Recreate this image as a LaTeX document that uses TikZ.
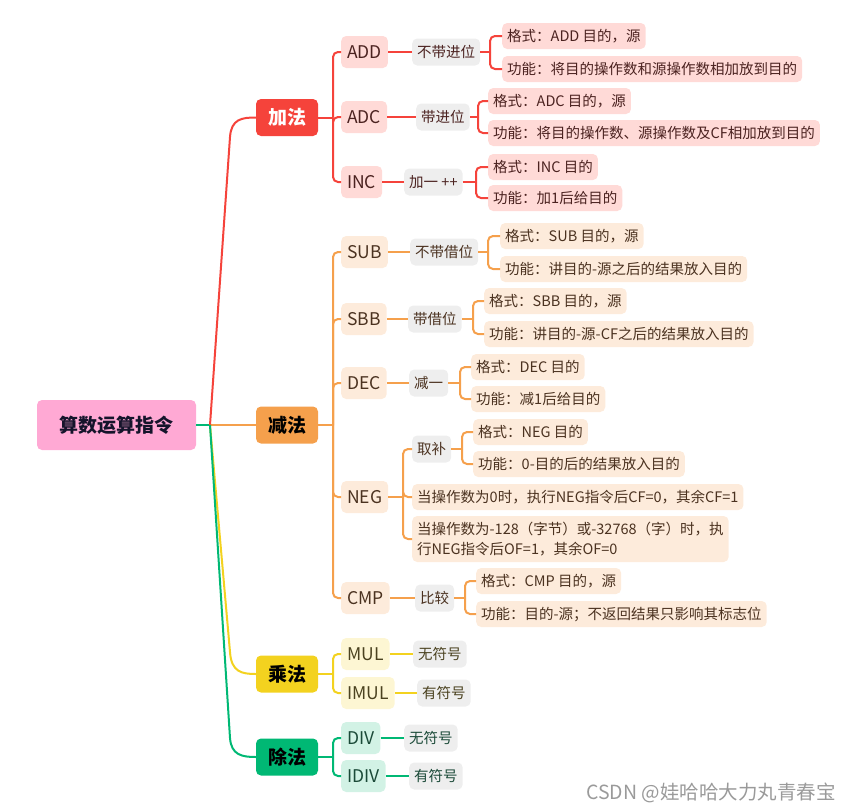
\documentclass[tikz,border=0pt]{standalone}
\usepackage{fontspec}
\setmainfont{Noto Sans CJK SC}
\usetikzlibrary{calc}
\definecolor{rootF}{HTML}{FFA9D4}
\definecolor{rootT}{HTML}{15142B}
\definecolor{redC}{HTML}{F5433B}
\definecolor{orgC}{HTML}{F5A04C}
\definecolor{yelC}{HTML}{F3D21F}
\definecolor{grnC}{HTML}{00B874}
\definecolor{redL}{HTML}{FFDAD7}
\definecolor{orgL}{HTML}{FDEBDB}
\definecolor{yelL}{HTML}{FDF6D3}
\definecolor{grnL}{HTML}{D2F2E5}
\definecolor{grayL}{HTML}{EEEEEE}
\definecolor{redT}{HTML}{4B2220}
\definecolor{orgT}{HTML}{4B3220}
\definecolor{yelT}{HTML}{4B4220}
\definecolor{grnT}{HTML}{1B4A38}
\definecolor{wmT}{HTML}{9A9A9A}
\tikzset{
  base/.style={rounded corners=5pt, inner sep=0pt, anchor=west},
  Lroot/.style={base, anchor=center, fill=rootF, text=rootT, minimum width=159, minimum height=50, text height=16.7pt, text depth=2.3pt, font=\fontsize{19}{22}\selectfont\bfseries},
  Lcat/.style={base, anchor=center, minimum width=62, minimum height=37, text height=16.7pt, text depth=2.3pt, font=\fontsize{19}{22}\selectfont\bfseries},
  Ltwo/.style={base, minimum height=32, inner xsep=6, text height=15pt, text depth=2pt, font=\fontsize{17.5}{20}\selectfont},
  Lthree/.style={base, minimum height=27, inner xsep=5, fill=grayL, text height=12.8pt, text depth=1.7pt, font=\fontsize{14.5}{17}\selectfont},
  Lfour/.style={base, minimum height=26, inner xsep=5, text height=12.8pt, text depth=1.7pt, font=\fontsize{14.5}{17}\selectfont},
  Lmulti/.style={rounded corners=5pt, anchor=west, inner xsep=5, inner ysep=4, minimum height=46, align=left, font=\fontsize{14.5}{19.5}\selectfont},
  rb/.style={fill=redL, text=redT},
  ob/.style={fill=orgL, text=orgT},
  yb/.style={fill=yelL, text=yelT},
  gb/.style={fill=grnL, text=grnT},
  lnR/.style={draw=redC, line width=2pt},
  lnO/.style={draw=orgC, line width=2pt},
  lnY/.style={draw=yelC, line width=2pt},
  lnG/.style={draw=grnC, line width=2pt},
}
% #1 style, #2 parent, #3 junction x, #4 junction y, #5 children
\newcommand\fork[5]{%
  \coordinate (#2-j) at (#3,#4);
  \draw[#1] (#2.east) -- (#2-j);
  \foreach \c in {#5} {\draw[#1, rounded corners=5pt] (#2-j) |- (\c.west);}
}
\begin{document}
\begin{tikzpicture}[x=1pt,y=-1pt]
\path[use as bounding box] (0,0) rectangle (851,811);

% root and categories
\node[Lroot] (root) at (116.5,425) {算数运算指令};
\node[Lcat, fill=redC, text=white] (jia) at (287,117.5) {加法};
\node[Lcat, fill=orgC, text=black] (jian) at (287,425) {减法};
\node[Lcat, fill=yelC, text=black] (cheng) at (287,674) {乘法};
\node[Lcat, fill=grnC, text=black] (chu) at (287,757) {除法};

% ---------- red branch ----------
\node[Ltwo, rb] (add) at (341,52) {ADD};
\node[Ltwo, rb] (adc) at (341,117) {ADC};
\node[Ltwo, rb] (inc) at (341,182) {INC};
\node[Lthree, text=redT] (add3) at (412,52) {不带进位};
\node[Lthree, text=redT] (adc3) at (416,117) {带进位};
\node[Lthree, text=redT] (inc3) at (404,182) {加一 ++};
\node[Lfour, rb] (add4a) at (502,36) {格式：ADD 目的，源};
\node[Lfour, rb] (add4b) at (502,69) {功能：将目的操作数和源操作数相加放到目的};
\node[Lfour, rb] (adc4a) at (488,101) {格式：ADC 目的，源};
\node[Lfour, rb] (adc4b) at (488,133) {功能：将目的操作数、源操作数及CF相加放到目的};
\node[Lfour, rb] (inc4a) at (488,167) {格式：INC 目的};
\node[Lfour, rb] (inc4b) at (488,198) {功能：加1后给目的};

% ---------- orange branch ----------
\node[Ltwo, ob] (sub) at (341,252) {SUB};
\node[Ltwo, ob] (sbb) at (341,319) {SBB};
\node[Ltwo, ob] (dec) at (341,383) {DEC};
\node[Ltwo, ob] (neg) at (341,497) {NEG};
\node[Ltwo, ob] (cmp) at (341,598) {CMP};
\node[Lthree, text=orgT] (sub3) at (410,252) {不带借位};
\node[Lthree, text=orgT] (sbb3) at (408,319) {带借位};
\node[Lthree, text=orgT] (dec3) at (409,383) {减一};
\node[Lthree, text=orgT] (neg3) at (412,449) {取补};
\node[Lthree, text=orgT] (cmp3) at (415,598) {比较};
\node[Lfour, ob] (sub4a) at (500,236) {格式：SUB 目的，源};
\node[Lfour, ob] (sub4b) at (500,269) {功能：讲目的-源之后的结果放入目的};
\node[Lfour, ob] (sbb4a) at (484,301) {格式：SBB 目的，源};
\node[Lfour, ob] (sbb4b) at (484,334) {功能：讲目的-源-CF之后的结果放入目的};
\node[Lfour, ob] (dec4a) at (471,367) {格式：DEC 目的};
\node[Lfour, ob] (dec4b) at (471,399) {功能：减1后给目的};
\node[Lfour, ob] (neg4a) at (473,432) {格式：NEG 目的};
\node[Lfour, ob] (neg4b) at (473,464) {功能：0-目的后的结果放入目的};
\node[Lfour, ob] (negcf) at (412,497) {当操作数为0时，执行NEG指令后CF=0，其余CF=1};
\node[Lmulti, ob] (negof) at (412,539) {当操作数为-128（字节）或-32768（字）时，执\\行NEG指令后OF=1，其余OF=0};
\node[Lfour, ob] (cmp4a) at (476,581) {格式：CMP 目的，源};
\node[Lfour, ob] (cmp4b) at (476,614) {功能：目的-源；不返回结果只影响其标志位};

% ---------- yellow branch ----------
\node[Ltwo, yb] (mul) at (341,654) {MUL};
\node[Ltwo, yb] (imul) at (341,693) {IMUL};
\node[Lthree, text=yelT] (mul3) at (413,654) {无符号};
\node[Lthree, text=yelT] (imul3) at (417,693) {有符号};

% ---------- green branch ----------
\node[Ltwo, gb] (div) at (341,738) {DIV};
\node[Ltwo, gb] (idiv) at (341,776) {IDIV};
\node[Lthree, text=grnT] (div3) at (404,738) {无符号};
\node[Lthree, text=grnT] (idiv3) at (409,776) {有符号};

% ---------- root connectors ----------
\coordinate (rj) at (210,425);
\coordinate (rkR) at (230,137);
\coordinate (rkY) at (230,652);
\coordinate (rkG) at (230,738);
\draw[lnG] (root.east) -- (rj);
\draw[lnO] (rj) -- (jian.west);
\draw[lnR] (rj) -- (rkR) .. controls +(1.3,-18) and +(-14,0) .. (jia.west);
\draw[lnY] (rj) -- (rkY) .. controls +(1.3,20) and +(-14,0) .. (cheng.west);
\draw[lnG] (rj) -- (rkG) .. controls +(1.3,17) and +(-14,0) .. (chu.west);

% ---------- forks ----------
\fork{lnR}{jia}{333}{117.5}{add,adc,inc}
\draw[lnR] (add) -- (add3);
\draw[lnR] (adc) -- (adc3);
\draw[lnR] (inc) -- (inc3);
\fork{lnR}{add3}{490}{52}{add4a,add4b}
\fork{lnR}{adc3}{478}{117}{adc4a,adc4b}
\fork{lnR}{inc3}{476}{182}{inc4a,inc4b}

\fork{lnO}{jian}{333}{425}{sub,sbb,dec,neg,cmp}
\draw[lnO] (sub) -- (sub3);
\draw[lnO] (sbb) -- (sbb3);
\draw[lnO] (dec) -- (dec3);
\draw[lnO] (cmp) -- (cmp3);
\fork{lnO}{neg}{403}{497}{neg3,negcf,negof}
\fork{lnO}{sub3}{488}{252}{sub4a,sub4b}
\fork{lnO}{sbb3}{473}{319}{sbb4a,sbb4b}
\fork{lnO}{dec3}{460}{383}{dec4a,dec4b}
\fork{lnO}{neg3}{462}{449}{neg4a,neg4b}
\fork{lnO}{cmp3}{465}{598}{cmp4a,cmp4b}

\fork{lnY}{cheng}{333}{674}{mul,imul}
\draw[lnY] (mul) -- (mul3);
\draw[lnY] (imul) -- (imul3);

\fork{lnG}{chu}{333}{757}{div,idiv}
\draw[lnG] (div) -- (div3);
\draw[lnG] (idiv) -- (idiv3);

% watermark
\node[anchor=east, text=wmT, font=\fontsize{19.5}{22}\selectfont, inner sep=0pt] (wm) at (836,793) {CSDN @娃哈哈大力丸青春宝};
\end{tikzpicture}
\end{document}
